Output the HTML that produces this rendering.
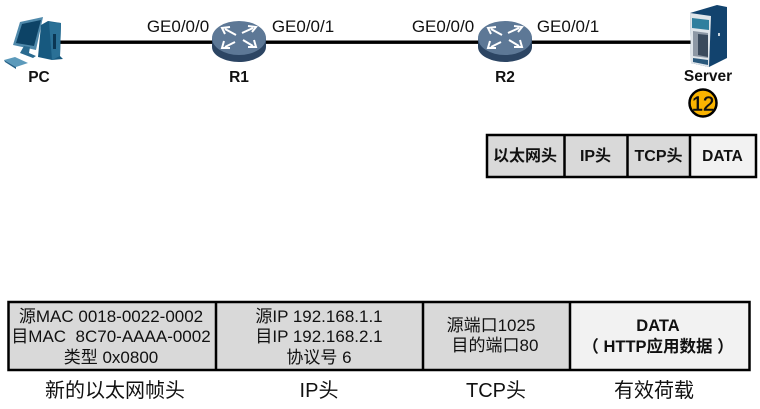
<!DOCTYPE html>
<html><head><meta charset="utf-8"><style>
html,body{margin:0;padding:0;background:#fff;width:760px;height:409px;overflow:hidden}
svg{display:block}
text{font-family:"Liberation Sans","Noto Sans CJK SC",sans-serif;fill:#111}
.p{font-size:17px}.b{font-weight:bold}.m{text-anchor:middle}
.t{font-size:17px}
</style></head><body>
<svg width="760" height="409" viewBox="0 0 760 409">
<defs>
<g id="router">
<path d="M-27,-3 V6 C-27,15 -13,21 0,21 C13,21 27,15 27,6 V-3 Z" fill="#2c4563"/>
<ellipse cx="0" cy="-3" rx="27" ry="17" fill="#5d7896"/>
<g stroke="#fff" stroke-width="2" fill="none">
<path d="M-3,-6 L-14,-12 M3,-8 L14,-13 M-4,1 L-14,6 M4,-1 L14,5"/>
<path d="M-9,-14 L-17,-13 L-14,-7 M9,-15 L17,-14 L13,-9 M-9,7 L-17,7 L-15,0 M9,6 L17,6 L15,-1"/>
</g>
</g>
</defs>

<rect x="58" y="40.5" width="637" height="3.4" fill="#000"/>

<!-- PC -->
<g>
<path d="M20,22 L43,17 L36,50 L13,45 Z" fill="#4f89ab"/>
<path d="M22,24 L41,20 L34,46 L16,43 Z" fill="#0d4366"/>
<path d="M24,46 L30,47 L29,53 L36,56 L33,58 L20,53 Z" fill="#2a6a8f"/>
<path d="M41,25 L48,21 L61,23 L60,56 L63,59 L52,60 L38,57 Z" fill="#17597f"/>
<path d="M49,22 L61,23 L60,56 L52,60 Z" fill="#2a7096"/>
<rect x="53" y="34" width="3" height="15" fill="#0b3653"/>
<path d="M4,60 L15,57 L28,63 L16,67 Z" fill="#5c9abb"/>
<path d="M4,60 L16,67 V69 L5,62 Z" fill="#246188"/>
</g>

<use href="#router" x="239" y="41"/>
<use href="#router" x="505" y="41"/>

<!-- Server -->
<g>
<path d="M690,13 L717,5 L727,7 V58 L709,67 L691,63 Z" fill="#12436e"/>
<path d="M690,13 L711,16 L709,67 L691,63 Z" fill="#dfe5ea"/>
<path d="M692,18 L709,20 V30 L692,28 Z" fill="#2f7f9e"/>
<path d="M693,31 L708,33 V58 L693,56 Z" fill="#8d98a5"/>
<path d="M698,34 L708,35 V57 L698,55 Z" fill="#3a4a5c"/>
<path d="M693,58 L708,60 V65 L693,62 Z" fill="#29587c"/>
<rect x="718" y="33" width="2" height="3" fill="#c8d6e0"/>
</g>

<text class="p m" x="178" y="32">GE0/0/0</text>
<text class="p m" x="303" y="32">GE0/0/1</text>
<text class="p m" x="443" y="32">GE0/0/0</text>
<text class="p m" x="568" y="32">GE0/0/1</text>
<text class="b m" font-size="15.5" x="39" y="82">PC</text>
<text class="b m" font-size="15.5" x="239" y="82">R1</text>
<text class="b m" font-size="15.5" x="505" y="82">R2</text>
<text class="b m" font-size="15.5" x="708" y="81">Server</text>

<circle cx="703" cy="103" r="13.500" fill="#fab400" stroke="#000" stroke-width="2.500"/>
<text class="m" font-size="20" x="703" y="110.500" stroke="#111" stroke-width=".5">12</text>

<!-- small table -->
<rect x="487" y="135" width="77" height="42" fill="#d9d9d9"/>
<rect x="564" y="135" width="64" height="42" fill="#d9d9d9"/>
<rect x="628" y="135" width="62" height="42" fill="#d9d9d9"/>
<rect x="690" y="135" width="66" height="42" fill="#f2f2f2"/>
<g fill="none" stroke="#000" stroke-width="2.500">
<rect x="487" y="135" width="269" height="42"/>
<path d="M564.500,135 V177 M627.500,135 V177 M690,135 V177"/>
</g>
<text class="b m" font-size="16" x="525" y="161">以太网头</text>
<text class="b m" font-size="16" x="595.500" y="161">IP头</text>
<text class="b m" font-size="16" x="658.500" y="161">TCP头</text>
<text class="b m" font-size="15.500" x="722.500" y="161">DATA</text>

<!-- big table -->
<rect x="8" y="302" width="208" height="67" fill="#d9d9d9"/>
<rect x="216" y="302" width="207" height="67" fill="#d9d9d9"/>
<rect x="423" y="302" width="147" height="67" fill="#d9d9d9"/>
<rect x="570" y="302" width="180" height="67" fill="#f2f2f2"/>
<g fill="none" stroke="#000" stroke-width="2.500">
<rect x="8.500" y="302" width="741" height="68"/>
<path d="M216,302 V370 M423,302 V370 M570,302 V370"/>
</g>

<text class="t m" x="111" y="322">源MAC 0018-0022-0002</text>
<text class="t m" x="111" y="342">目MAC&#160; 8C70-AAAA-0002</text>
<text class="t m" x="111" y="363">类型 0x0800</text>
<text class="t m" x="319" y="322">源IP 192.168.1.1</text>
<text class="t m" x="319" y="342">目IP 192.168.2.1</text>
<text class="t m" x="319" y="363">协议号 6</text>
<text class="t m" x="491" y="331">源端口1025</text>
<text class="t m" x="495" y="351">目的端口80</text>
<text class="b m" font-size="16.500" x="658" y="331">DATA</text>
<text class="b m" font-size="16.500" x="658" y="352">（ HTTP应用数据 ）</text>

<text class="m" font-size="20" x="115" y="397">新的以太网帧头</text>
<text class="m" font-size="20" x="319" y="397">IP头</text>
<text class="m" font-size="20" x="496" y="397">TCP头</text>
<text class="m" font-size="20" x="654" y="397">有效荷载</text>
</svg>
</body></html>
